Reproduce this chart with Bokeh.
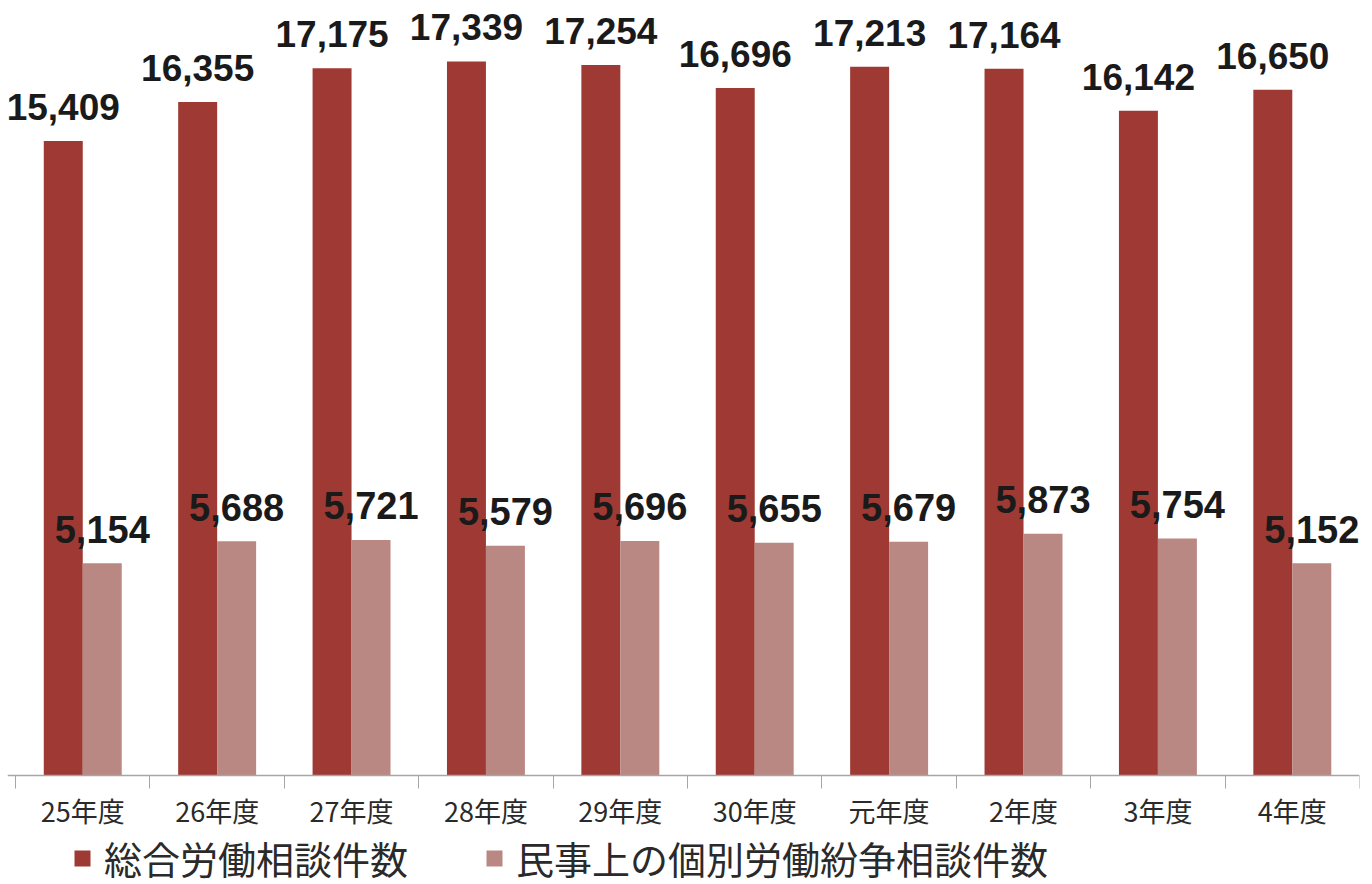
from bokeh.plotting import figure
from bokeh.models import (ColumnDataSource, Range1d, LinearAxis, FixedTicker,
                          Legend, LegendItem)
from bokeh.transform import dodge
from bokeh.core.properties import value
from bokeh.embed import file_html
from bokeh.resources import INLINE

categories = ["25年度", "26年度", "27年度", "28年度", "29年度", "30年度", "元年度", "2年度", "3年度", "4年度"]
total_consult = [15409, 16355, 17175, 17339, 17254, 16696, 17213, 17164, 16142, 16650]
civil_dispute = [5154, 5688, 5721, 5579, 5696, 5655, 5679, 5873, 5754, 5152]
series_names = ["総合労働相談件数", "民事上の個別労働紛争相談件数"]

DARK = "#9E3A33"
LIGHT = "#B98883"

n = len(categories)
src = ColumnDataSource(dict(
    pos=list(range(n)),
    cat=categories,
    total=total_consult,
    civil=civil_dispute,
    total_lbl=[f"{v:,}" for v in total_consult],
    civil_lbl=[f"{v:,}" for v in civil_dispute],
))

p = figure(x_range=Range1d(-0.06, n), y_range=Range1d(-2598, 18626),
           frame_width=1352, frame_height=874,
           output_backend="svg", toolbar_location=None,
           x_axis_location=None, y_axis_location=None,
           min_border_left=7, min_border_right=5, min_border_top=8, min_border_bottom=0)
p.background_fill_color = "white"
p.border_fill_color = "white"
p.outline_line_color = None
p.xgrid.visible = False
p.ygrid.visible = False

r1 = p.vbar(x=dodge("pos", 0.5 - 0.145), top="total", width=0.29,
            source=src, fill_color=DARK, line_color=None)
r2 = p.vbar(x=dodge("pos", 0.5 + 0.145), top="civil", width=0.29,
            source=src, fill_color=LIGHT, line_color=None)

p.text(x=dodge("pos", 0.5 - 0.145), y="total", text="total_lbl", source=src,
       text_align="center", text_baseline="alphabetic", y_offset=-34,
       text_font=value("Liberation Sans"), text_font_style="bold",
       text_font_size="37px", text_color="#1a1a1a")
p.text(x=dodge("pos", 0.5 + 0.145), y="civil", text="civil_lbl", source=src,
       text_align="center", text_baseline="alphabetic", y_offset=-34,
       text_font=value("Liberation Sans"), text_font_style="bold",
       text_font_size="38px", text_color="#1a1a1a")

# category axis at y=0: ticks at category boundaries, labels at centres
centres = [i + 0.5 for i in range(n)]
xaxis = LinearAxis(ticker=FixedTicker(ticks=centres, minor_ticks=list(range(n + 1))),
                   fixed_location=0)
xaxis.major_label_overrides = {c: lab for c, lab in zip(centres, categories)}
xaxis.major_tick_line_color = None
xaxis.major_tick_out = 0
xaxis.major_tick_in = 0
xaxis.minor_tick_line_color = "#A6A6A6"
xaxis.minor_tick_out = 13
xaxis.minor_tick_in = 0
xaxis.axis_line_color = "#A6A6A6"
xaxis.axis_line_width = 1.5
xaxis.major_label_standoff = 2
xaxis.major_label_text_font = "Noto Sans CJK JP"
xaxis.major_label_text_font_size = "27px"
xaxis.major_label_text_color = "#2a2a2a"
p.add_layout(xaxis, "below")

legend = Legend(items=[LegendItem(label=series_names[0], renderers=[r1]),
                       LegendItem(label=series_names[1], renderers=[r2])],
                orientation="horizontal", location=(65, -3))
legend.label_text_font = "Noto Sans CJK JP"
legend.label_text_font_size = "38px"
legend.label_text_color = "#2a2a2a"
legend.glyph_width = 20
legend.glyph_height = 20
legend.label_standoff = 12
legend.spacing = 76
legend.padding = 0
legend.margin = 0
legend.border_line_color = None
legend.background_fill_alpha = 0
p.add_layout(legend, "center")

open("out.html", "w").write(file_html(p, INLINE))
